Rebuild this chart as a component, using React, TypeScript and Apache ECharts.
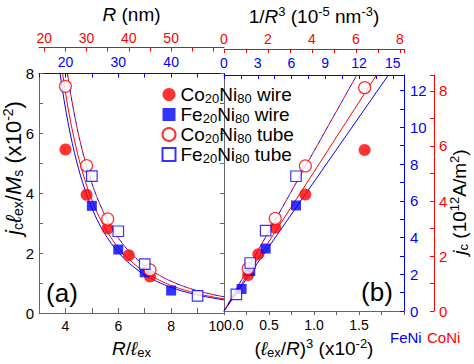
import React, { useEffect, useRef } from "react";
import * as echarts from "echarts";

const FONT = '"Liberation Sans", Arial, Helvetica, sans-serif';
const RED = "#ff0000";
const BLUE = "#0000ff";
const AXIS = "#666666";

// ---------------- data ----------------
// panel (a): x = R/ℓex, y = jc·ℓex/Ms (×10^-2)
const coWireX = [4.0, 4.8, 5.6, 6.4, 7.2];
const coWireY = [5.46, 3.95, 2.82, 1.93, 1.22];
const feWireX = [5.0, 6.0, 7.0, 8.0];
const feWireY = [3.58, 2.12, 1.36, 0.75];
const coTubeX = [4.0, 4.8, 5.6, 7.2];
const coTubeY = [7.57, 4.92, 3.14, 1.44];
const feTubeX = [5.0, 6.0, 7.0, 9.0];
const feTubeY = [4.57, 2.73, 1.63, 0.57];

// slopes of the linear fits of panel (b): y = slope × (ℓex/R)^3 [×10^-2]
const fitCoWire = 4.72;
const fitFeWire = 4.38;
const fitTube = 5.42;

// exchange lengths (nm): CoNi, FeNi  -> secondary top axes
const exchangeLengths = [6.25, 5.0];
// right axes (jc, 10^12 A/m^2) value at the top of the plot: CoNi, FeNi
const jcTop = [8.58, 12.85];

// tick label / tick lists
const rRedLabels = [20, 30, 40, 50];
const rRedTicks = [20, 25, 30, 35, 40, 45, 50, 55, 60];
const legendNames = ["Co20Ni80 wire", "Fe20Ni80 wire", "Co20Ni80 tube", "Fe20Ni80 tube"];
const legendRich = [
  "{n|Co}{sub|20}{n|Ni}{sub|80}{n| wire}",
  "{n|Fe}{sub|20}{n|Ni}{sub|80}{n| wire}",
  "{n|Co}{sub|20}{n|Ni}{sub|80}{n| tube}",
  "{n|Fe}{sub|20}{n|Ni}{sub|80}{n| tube}",
];

// ------------------------------------------------------------
const mkRich = (fs: number, sfs: number, lh: number) => ({
  n: { fontSize: fs, lineHeight: lh, fontFamily: FONT, color: "#000" },
  i: { fontSize: fs, lineHeight: lh, fontFamily: FONT, fontStyle: "italic", color: "#000" },
  sub: { fontSize: sfs, lineHeight: 10, verticalAlign: "bottom", fontFamily: FONT, color: "#000" },
  sup: { fontSize: sfs, lineHeight: 10, verticalAlign: "top", fontFamily: FONT, color: "#000" },
});
const rich = mkRich(19, 13, 22);
const richLegend = mkRich(19, 13, 21);
const richBig = mkRich(22, 14, 24);

const [coL, feL] = exchangeLengths;
const xb = (x: number) => 100 / (x * x * x);
const ptsA = (xs: number[], ys: number[]) => xs.map((x, i) => [x, ys[i]]);
const ptsB = (xs: number[], ys: number[]) => xs.map((x, i) => [xb(x), ys[i]]);
const curveA = (slope: number) => {
  const x0 = Math.cbrt((slope * 100) / 8);
  const out: number[][] = [];
  const n = 80;
  for (let i = 0; i <= n; i++) {
    const x = x0 + ((10 - x0) * i) / n;
    out.push([x, slope * xb(x)]);
  }
  return out;
};
const lineB = (slope: number) => [
  [0, 0],
  [8 / slope, 8],
];

const tick = (color: string) => ({ fontFamily: FONT, fontSize: 14, color });
const even = (v: number) => (Math.abs(v % 2) < 1e-9 ? String(v) : "");

const sym = {
  coWire: { symbol: "circle", symbolSize: 12, itemStyle: { color: RED } },
  feWire: { symbol: "rect", symbolSize: 10, itemStyle: { color: BLUE } },
  coTube: { symbol: "circle", symbolSize: 12, itemStyle: { color: "#fff", borderColor: RED, borderWidth: 1.2 } },
  feTube: { symbol: "rect", symbolSize: 10.5, itemStyle: { color: "#fff", borderColor: BLUE, borderWidth: 1.2 } },
};

const lineSeries = (name: string, data: number[][], color: string, xi: number, yi: number, dashed: boolean, offset = 0) => ({
  type: "line",
  name,
  xAxisIndex: xi,
  yAxisIndex: yi,
  data,
  showSymbol: false,
  symbol: "none",
  silent: true,
  z: 2,
  lineStyle: { color, width: 1, type: dashed ? [4, 4] : "solid", dashOffset: offset },
});

const scatter = (name: string, data: number[][], s: any, xi: number, yi: number) => ({
  type: "scatter",
  name,
  xAxisIndex: xi,
  yAxisIndex: yi,
  data,
  z: 5,
  silent: true,
  ...s,
});

const option: any = {
  animation: false,
  backgroundColor: "#fff",
  grid: [
    { left: 39, top: 70, width: 185, height: 247 },
    { left: 224, top: 70, width: 180, height: 247 },
  ],
  xAxis: [
    {
      gridIndex: 0, type: "value", position: "bottom", min: 3, max: 10, interval: 1,
      axisLine: { onZero: false, lineStyle: { color: AXIS } },
      axisTick: { inside: true, length: 5, lineStyle: { color: AXIS } },
      axisLabel: { ...tick("#000"), margin: 6, formatter: even, alignMaxLabel: "right" },
      splitLine: { show: false },
      name: "{i|R}{n|/}{i|ℓ}{sub|ex}", nameLocation: "middle", nameGap: 24, nameTextStyle: { rich },
    },
    {
      gridIndex: 0, type: "value", position: "top", offset: 0, min: 3 * feL, max: 10 * feL, interval: 5,
      axisLine: { onZero: false, lineStyle: { color: BLUE } },
      axisTick: { inside: true, length: 4, lineStyle: { color: BLUE } },
      axisLabel: { ...tick(BLUE), margin: 5, formatter: (v: number) => (v % 10 === 0 && v < 50 ? String(v) : "") },
      splitLine: { show: false },
    },
    {
      gridIndex: 0, type: "value", position: "top", offset: 26, min: 3 * coL, max: 10 * coL,
      axisLine: { onZero: false, lineStyle: { color: RED } },
      axisTick: { inside: true, length: 4, lineStyle: { color: RED }, customValues: rRedTicks },
      axisLabel: { ...tick(RED), margin: 3, customValues: rRedLabels },
      splitLine: { show: false },
      name: "{i|R}{n| (nm)}", nameLocation: "middle", nameGap: 22, nameTextStyle: { rich },
    },
    {
      gridIndex: 1, type: "value", position: "bottom", min: 0, max: 2, interval: 0.25,
      axisLine: { onZero: false, lineStyle: { color: AXIS } },
      axisTick: { inside: false, length: 4, lineStyle: { color: AXIS } },
      axisLabel: {
        ...tick("#000"), margin: 7, alignMinLabel: "left",
        formatter: (v: number) => (Math.abs(v * 2 - Math.round(v * 2)) < 1e-6 && v < 1.99 ? v.toFixed(1) : ""),
      },
      splitLine: { show: false },
      name: "{n|(}{i|ℓ}{sub|ex}{n|/}{i|R}{n|)}{sup|3}{n| (x10}{sup|-2}{n|)}", nameLocation: "middle", nameGap: 24,
      nameTextStyle: { rich },
    },
    {
      gridIndex: 1, type: "value", position: "top", offset: 0, min: 0, max: (2 * 1000) / (feL * feL * feL), interval: 1.5,
      axisLine: { onZero: false, lineStyle: { color: BLUE } },
      axisTick: { inside: true, length: 4, lineStyle: { color: BLUE } },
      axisLabel: {
        ...tick(BLUE), margin: 5,
        formatter: (v: number) => (Math.abs(v / 3 - Math.round(v / 3)) < 1e-6 ? String(Math.round(v)) : ""),
      },
      splitLine: { show: false },
    },
    {
      gridIndex: 1, type: "value", position: "top", offset: 26, min: 0, max: (2 * 1000) / (coL * coL * coL), interval: 1,
      axisLine: { onZero: false, lineStyle: { color: RED } },
      axisTick: { inside: true, length: 4, lineStyle: { color: RED } },
      axisLabel: { ...tick(RED), margin: 3, formatter: even },
      splitLine: { show: false },
      name: "{n|1/}{i|R}{sup|3}{n| (10}{sup|-5}{n| nm}{sup|-3}{n|)}", nameLocation: "middle", nameGap: 22,
      nameTextStyle: { rich },
    },
  ],
  yAxis: [
    {
      gridIndex: 0, type: "value", position: "left", min: 0, max: 8, interval: 1,
      axisLine: { onZero: false, lineStyle: { color: AXIS } },
      axisTick: { inside: true, length: 4, lineStyle: { color: AXIS } },
      axisLabel: { ...tick("#000"), fontSize: 15, margin: 5, formatter: even },
      splitLine: { show: false },
    },
    {
      gridIndex: 0, type: "value", position: "right", min: 0, max: 8, interval: 1,
      axisLine: { onZero: false, lineStyle: { color: AXIS } },
      axisTick: { inside: true, length: 4, lineStyle: { color: AXIS } },
      axisLabel: { show: false },
      splitLine: { show: false },
    },
    { gridIndex: 1, type: "value", position: "left", min: 0, max: 8, show: false, splitLine: { show: false } },
    {
      gridIndex: 1, type: "value", position: "right", min: 0, max: jcTop[1], interval: 1,
      axisLine: { onZero: false, lineStyle: { color: BLUE } },
      axisTick: { inside: true, length: 4, lineStyle: { color: BLUE } },
      axisLabel: { ...tick(BLUE), fontSize: 15, margin: 6, formatter: even },
      splitLine: { show: false },
    },
    {
      gridIndex: 1, type: "value", position: "right", offset: 30, min: 0, max: jcTop[0], interval: 1,
      axisLine: { onZero: false, lineStyle: { color: RED } },
      axisTick: { inside: true, length: 4, lineStyle: { color: RED } },
      axisLabel: { ...tick(RED), fontSize: 15, margin: 5, formatter: even },
      splitLine: { show: false },
    },
  ],
  legend: {
    data: legendNames,
    orient: "vertical",
    left: 156.5,
    top: 80,
    itemWidth: 13,
    itemHeight: 13,
    itemGap: 0,
    selectedMode: false,
    formatter: (name: string) => legendRich[legendNames.indexOf(name)],
    textStyle: { rich: richLegend },
  },
  graphic: [
    {
      type: "text", x: 13, y: 168, rotation: Math.PI / 2,
      style: {
        text: "{i|j}{sub|c}{i|ℓ}{sub|ex}{n|/}{i|M}{sub|s}{n| (x10}{sup|-2}{n|)}",
        rich: richBig, align: "center", verticalAlign: "middle",
      },
    },
    {
      type: "text", x: 459, y: 202, rotation: Math.PI / 2,
      style: {
        text: "{i|j}{sub|c}{n| (10}{sup|12}{n|A/m}{sup|2}{n|)}",
        rich, align: "center", verticalAlign: "middle",
      },
    },
    { type: "text", x: 62, y: 293, style: { text: "(a)", font: `26px ${FONT}`, fill: "#000", align: "center", verticalAlign: "middle" } },
    { type: "text", x: 377, y: 292, style: { text: "(b)", font: `26px ${FONT}`, fill: "#000", align: "center", verticalAlign: "middle" } },
    { type: "text", x: 390, y: 337, style: { text: "FeNi", font: `15px ${FONT}`, fill: BLUE, align: "left", verticalAlign: "middle" } },
    { type: "text", x: 427, y: 337, style: { text: "CoNi", font: `15px ${FONT}`, fill: RED, align: "left", verticalAlign: "middle" } },
  ],
  series: [
    // panel (a) fits
    lineSeries("fit Co wire a", curveA(fitCoWire), RED, 0, 0, false),
    lineSeries("fit Fe wire a", curveA(fitFeWire), BLUE, 0, 0, false),
    lineSeries("fit Co tube a", curveA(fitTube), RED, 0, 0, true, 4),
    lineSeries("fit Fe tube a", curveA(fitTube), BLUE, 0, 0, true, 0),
    // panel (b) fits
    lineSeries("fit Co wire b", lineB(fitCoWire), RED, 3, 2, false),
    lineSeries("fit Fe wire b", lineB(fitFeWire), BLUE, 3, 2, false),
    lineSeries("fit Co tube b", lineB(fitTube), RED, 3, 2, true, 4),
    lineSeries("fit Fe tube b", lineB(fitTube), BLUE, 3, 2, true, 0),
    // panel (a) points
    scatter(legendNames[0], ptsA(coWireX, coWireY), sym.coWire, 0, 0),
    scatter(legendNames[1], ptsA(feWireX, feWireY), sym.feWire, 0, 0),
    scatter(legendNames[2], ptsA(coTubeX, coTubeY), sym.coTube, 0, 0),
    scatter(legendNames[3], ptsA(feTubeX, feTubeY), sym.feTube, 0, 0),
    // panel (b) points
    scatter(legendNames[0], ptsB(coWireX, coWireY), sym.coWire, 3, 2),
    scatter(legendNames[1], ptsB(feWireX, feWireY), sym.feWire, 3, 2),
    scatter(legendNames[2], ptsB(coTubeX, coTubeY), sym.coTube, 3, 2),
    scatter(legendNames[3], ptsB(feTubeX, feTubeY), sym.feTube, 3, 2),
  ],
};

export default function App() {
  const ref = useRef<HTMLDivElement>(null);
  useEffect(() => {
    if (!ref.current) return;
    const chart = echarts.init(ref.current, null, { renderer: "svg" });
    chart.setOption(option);
    return () => chart.dispose();
  }, []);
  return (
    <div
      ref={ref}
      style={{ position: "fixed", left: 0, top: 0, width: 474, height: 364, background: "#fff" }}
    />
  );
}
